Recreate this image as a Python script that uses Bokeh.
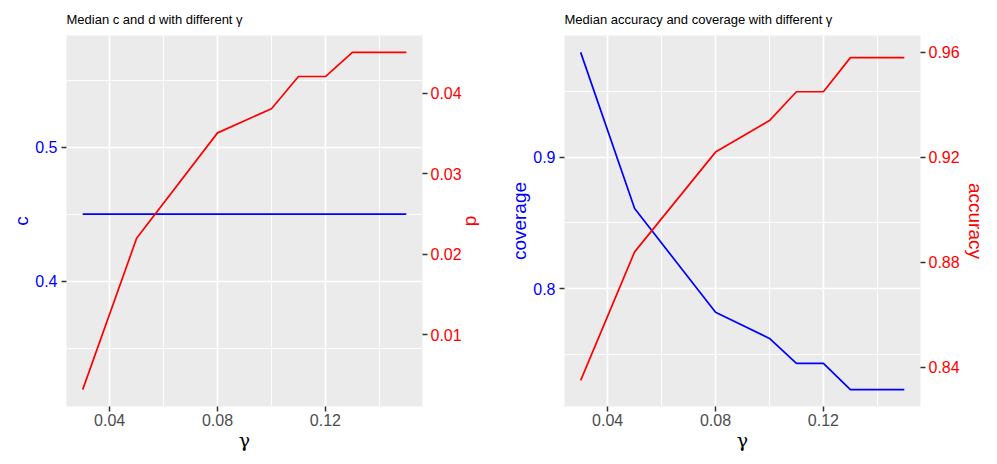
from bokeh.plotting import figure
from bokeh.models import Range1d, LinearAxis, FixedTicker
from bokeh.layouts import row
from bokeh.embed import file_html
from bokeh.resources import INLINE

# ---------------- data ----------------
gamma = [0.03, 0.05, 0.08, 0.10, 0.11, 0.12, 0.13, 0.15]
median_c = [0.45, 0.45, 0.45, 0.45, 0.45, 0.45, 0.45, 0.45]
median_d = [0.0032, 0.0220, 0.0351, 0.0381, 0.0421, 0.0421, 0.0451, 0.0451]
coverage = [0.980, 0.861, 0.782, 0.762, 0.743, 0.743, 0.723, 0.723]
accuracy = [0.835, 0.884, 0.922, 0.934, 0.945, 0.945, 0.958, 0.958]

# secondary-axis transforms: primary = scale * secondary + shift
d_scale, d_shift = 6.0, 0.3
acc_scale, acc_shift = 2.0, -0.94

x_ticks = [0.04, 0.08, 0.12]
x_minor = [0.02, 0.06, 0.10, 0.14]
c_ticks = [0.4, 0.5]
c_minor = [0.35, 0.45, 0.55]
d_ticks = [0.01, 0.02, 0.03, 0.04]
cov_ticks = [0.8, 0.9]
cov_minor = [0.75, 0.85, 0.95]
acc_ticks = [0.84, 0.88, 0.92, 0.96]

titles = ["Median c and d with different \u03b3",
          "Median accuracy and coverage with different \u03b3"]

FONT = "Liberation Sans"
BLUE = "#0000FF"
RED = "#FF0000"


def padded(vals, frac=0.05):
    lo, hi = min(vals), max(vals)
    pad = (hi - lo) * frac
    return lo - pad, hi + pad


def style_axis(ax, color, tick_standoff, label_standoff):
    ax.axis_line_color = None
    ax.major_tick_line_color = "#333333"
    ax.major_tick_line_width = 1.5
    ax.major_tick_in = 0
    ax.major_tick_out = 5
    ax.minor_tick_line_color = None
    ax.major_label_text_font = FONT
    ax.major_label_text_font_size = "16px"
    ax.major_label_text_color = color
    ax.major_label_standoff = tick_standoff
    ax.axis_label_text_font = FONT
    ax.axis_label_text_font_size = "19px"
    ax.axis_label_text_font_style = "normal"
    ax.axis_label_standoff = label_standoff


def make_panel(title, y_prim, y_sec, prim_name, sec_name, prim_ticks, prim_minor,
               sec_ticks, scale, shift, width, border_left, border_right, sec_standoff):
    x_lo, x_hi = padded(gamma)
    combined = list(y_prim) + [scale * v + shift for v in y_sec]
    y_lo, y_hi = padded(combined)
    p = figure(width=width, height=456,
               x_range=Range1d(x_lo, x_hi), y_range=Range1d(y_lo, y_hi),
               output_backend="svg", toolbar_location=None,
               min_border_left=border_left, min_border_right=border_right,
               min_border_top=35, min_border_bottom=50,
               background_fill_color="#EBEBEB", border_fill_color="white",
               outline_line_color=None)
    p.extra_y_ranges = {"sec": Range1d((y_lo - shift) / scale, (y_hi - shift) / scale)}

    p.title.text = title
    p.title.text_font = FONT
    p.title.text_font_size = "13px"
    p.title.text_font_style = "normal"
    p.title.text_color = "#000000"
    p.title.standoff = 17
    p.title.offset = 0

    p.xaxis.ticker = FixedTicker(ticks=x_ticks, minor_ticks=x_minor)
    p.yaxis.ticker = FixedTicker(ticks=prim_ticks, minor_ticks=prim_minor)
    p.xaxis.axis_label = "\u03b3"
    p.yaxis.axis_label = prim_name
    style_axis(p.xaxis[0], "#4D4D4D", 2, 0)
    style_axis(p.yaxis[0], BLUE, 4, 0)
    p.xaxis.axis_label_text_font = "DejaVu Serif"
    p.yaxis.axis_label_text_color = BLUE
    p.xaxis.axis_label_text_color = "#000000"

    sec = LinearAxis(y_range_name="sec", ticker=FixedTicker(ticks=sec_ticks),
                     axis_label=sec_name)
    style_axis(sec, RED, 3, sec_standoff)
    sec.axis_label_text_color = RED
    p.add_layout(sec, "right")

    for g in (p.xgrid, p.ygrid):
        g.grid_line_color = "white"
        g.grid_line_width = 1.6
        g.minor_grid_line_color = "white"
        g.minor_grid_line_width = 0.9

    p.line(gamma, y_prim, line_color=BLUE, line_width=1.7)
    p.line(gamma, y_sec, line_color=RED, line_width=1.7, y_range_name="sec")
    return p


left = make_panel(titles[0], median_c, median_d, "c", "d", c_ticks, c_minor,
                  d_ticks, d_scale, d_shift, 490, 66, 68, -3)
right = make_panel(titles[1], coverage, accuracy, "coverage", "accuracy",
                   cov_ticks, cov_minor, acc_ticks, acc_scale, acc_shift, 501, 74, 71, 2)

layout = row(left, right)
open("out.html", "w").write(file_html(layout, INLINE))
